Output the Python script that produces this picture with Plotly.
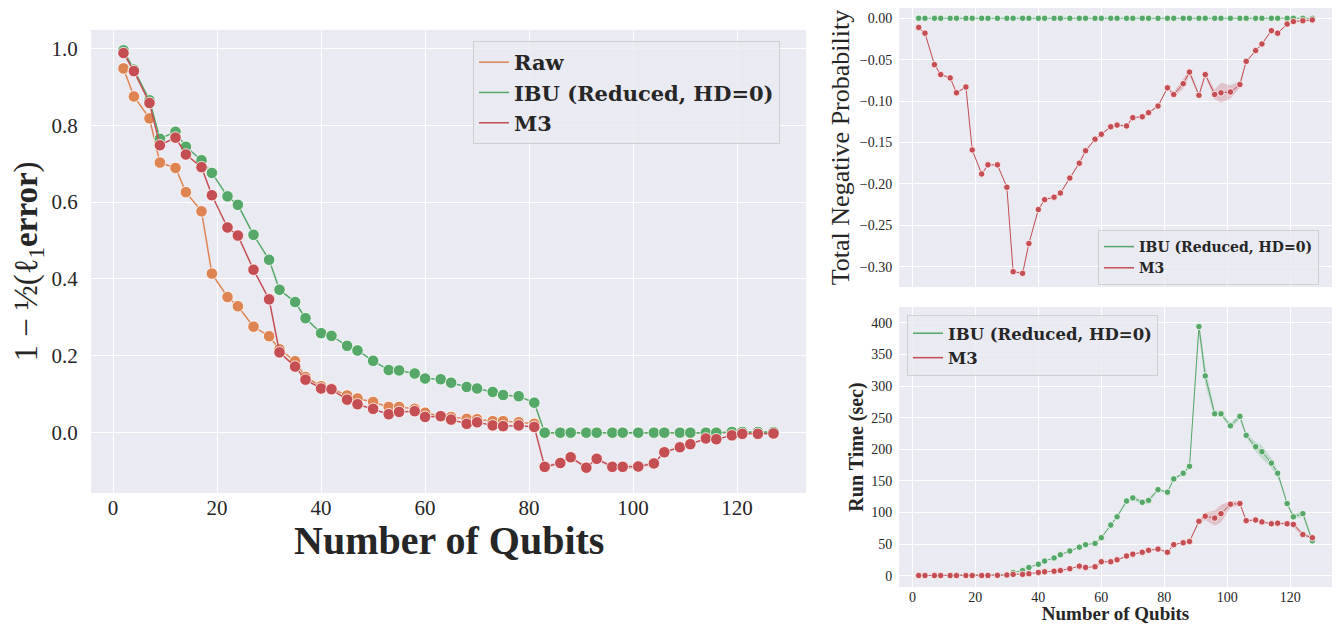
import plotly.graph_objects as go

# ---------------- data ----------------
qubits = [2, 4, 7, 9, 12, 14, 17, 19, 22, 24,
          27, 30, 32, 35, 37, 40, 42, 45, 47, 50,
          53, 55, 58, 60, 63, 65, 68, 70, 73, 75,
          78, 81, 83, 86, 88, 91, 93, 96, 98, 101,
          104, 106, 109, 111, 114, 116, 119, 121, 124, 127]

fid_raw = [0.948, 0.875, 0.818, 0.703, 0.689, 0.626, 0.576, 0.414, 0.353, 0.329,
           0.276, 0.251, 0.217, 0.186, 0.145, 0.121, 0.115, 0.097, 0.089, 0.080,
           0.067, 0.067, 0.062, 0.052, 0.043, 0.041, 0.036, 0.035, 0.030, 0.030,
           0.027, 0.023, 0.0, 0.0, 0.0, 0.0, 0.0, 0.0, 0.0, 0.0,
           0.0, 0.0, 0.0, 0.0, 0.0, 0.0, 0.0, 0.0, 0.0, 0.0]

fid_ibu = [0.995, 0.945, 0.865, 0.765, 0.783, 0.744, 0.709, 0.676, 0.615, 0.593,
           0.515, 0.450, 0.372, 0.340, 0.298, 0.259, 0.252, 0.226, 0.214, 0.187,
           0.163, 0.162, 0.154, 0.141, 0.139, 0.130, 0.119, 0.115, 0.106, 0.098,
           0.095, 0.078, 0.0, 0.0, 0.0, 0.0, 0.0, 0.0, 0.0, 0.0,
           0.0, 0.0, 0.0, 0.0, 0.0, 0.0, 0.002, 0.002, 0.002, 0.002]

fid_m3 = [0.988, 0.941, 0.858, 0.748, 0.768, 0.724, 0.691, 0.618, 0.534, 0.513,
          0.424, 0.347, 0.209, 0.172, 0.138, 0.115, 0.113, 0.086, 0.074, 0.062,
          0.048, 0.054, 0.056, 0.041, 0.043, 0.034, 0.023, 0.027, 0.019, 0.017,
          0.019, 0.015, -0.089, -0.079, -0.064, -0.091, -0.068, -0.089, -0.089, -0.088,
          -0.080, -0.051, -0.038, -0.030, -0.015, -0.017, -0.007, -0.003, -0.003, -0.002]

fid_m3_ci = [0.0, 0.0, 0.0, 0.0, 0.0, 0.0, 0.0, 0.0, 0.0, 0.0,
             0.0, 0.0, 0.0, 0.0, 0.0, 0.0, 0.0, 0.0, 0.0, 0.0,
             0.0, 0.0, 0.0, 0.0, 0.0, 0.0, 0.0, 0.0, 0.0, 0.0,
             0.0, 0.0, 0.004, 0.004, 0.004, 0.004, 0.004, 0.005, 0.006, 0.005,
             0.004, 0.0, 0.0, 0.0, 0.0, 0.0, 0.0, 0.0, 0.0, 0.0]

neg_ibu = [0.0] * 50

neg_m3 = [-0.011, -0.018, -0.056, -0.068, -0.072, -0.090, -0.083, -0.159, -0.188, -0.177,
          -0.177, -0.204, -0.306, -0.308, -0.272, -0.231, -0.219, -0.216, -0.211, -0.193,
          -0.175, -0.160, -0.146, -0.140, -0.131, -0.129, -0.130, -0.120, -0.119, -0.114,
          -0.106, -0.084, -0.092, -0.079, -0.065, -0.093, -0.068, -0.092, -0.090, -0.089,
          -0.080, -0.052, -0.039, -0.031, -0.015, -0.018, -0.007, -0.004, -0.003, -0.002]

neg_m3_ci = [0.001, 0.001, 0.001, 0.001, 0.001, 0.001, 0.001, 0.001, 0.001, 0.001,
             0.001, 0.001, 0.001, 0.001, 0.001, 0.001, 0.001, 0.001, 0.001, 0.001,
             0.001, 0.001, 0.001, 0.001, 0.001, 0.001, 0.001, 0.001, 0.001, 0.001,
             0.001, 0.001, 0.003, 0.006, 0.004, 0.002, 0.002, 0.006, 0.012, 0.008,
             0.004, 0.001, 0.001, 0.001, 0.001, 0.001, 0.001, 0.001, 0.001, 0.001]

time_ibu = [0.1, 0.1, 0.1, 0.1, 0.1, 0.1, 0.1, 0.2, 0.2, 0.3,
            0.5, 1, 5, 8, 13, 18, 23, 28, 33, 39,
            45, 49, 51, 60, 80, 93, 118, 123, 116, 119,
            136, 132, 153, 162, 173, 394, 316, 256, 256, 237,
            252, 222, 204, 196, 178, 162, 114, 93, 98, 55]

time_ibu_ci = [0, 0, 0, 0, 0, 0, 0, 0, 0, 0,
               0, 0, 0, 0, 0, 0, 0, 0, 0, 0,
               0, 0, 0, 1, 2, 2, 3, 3, 4, 4,
               2, 2, 2, 2, 3, 12, 15, 6, 4, 4,
               5, 3, 8, 10, 8, 5, 3, 4, 5, 3]

time_m3 = [0.1, 0.1, 0.1, 0.1, 0.1, 0.1, 0.1, 0.2, 0.2, 0.3,
           0.5, 1, 2, 2, 3, 5, 6, 7, 8, 11,
           15, 13, 14, 22, 22, 25, 31, 34, 37, 40,
           42, 37, 49, 52, 54, 86, 94, 91, 98, 113,
           114, 87, 88, 85, 82, 83, 82, 81, 65, 60]

time_m3_ci = [0, 0, 0, 0, 0, 0, 0, 0, 0, 0,
              0, 0, 0, 0, 0, 0, 0, 0, 0, 0,
              0, 0, 0, 1, 1, 1, 1, 1, 1, 1,
              1, 1, 1, 1, 1, 2, 6, 12, 14, 5,
              3, 1, 1, 1, 1, 1, 3, 4, 3, 2]

# ---------------- style ----------------
ORANGE = "#dd8452"
GREEN = "#55a868"
RED = "#c44e52"
BG = "#eaeaf2"
TXT = "#262626"
SERIF = "Liberation Serif"
LEGSERIF = "DejaVu Serif"

fig = go.Figure()


def band(x, y, ci, color, xa, ya):
    lo = [a - b for a, b in zip(y, ci)]
    hi = [a + b for a, b in zip(y, ci)]
    fig.add_trace(go.Scatter(x=x, y=lo, mode="lines", line=dict(width=0),
                             showlegend=False, hoverinfo="skip", xaxis=xa, yaxis=ya))
    fig.add_trace(go.Scatter(x=x, y=hi, mode="lines", line=dict(width=0),
                             fill="tonexty", fillcolor=color, showlegend=False,
                             hoverinfo="skip", xaxis=xa, yaxis=ya))


def series(x, y, color, xa, ya, msize, lw, name):
    fig.add_trace(go.Scatter(x=x, y=y, mode="lines+markers", name=name,
                             line=dict(color=color, width=lw),
                             marker=dict(color=color, size=msize,
                                         line=dict(color="white", width=0.8)),
                             showlegend=False, xaxis=xa, yaxis=ya))


def legend_entry(name, color, legend):
    fig.add_trace(go.Scatter(x=[None], y=[None], mode="lines", name=name,
                             line=dict(color=color, width=1.5),
                             legend=legend, showlegend=True, xaxis="x", yaxis="y"))


# left panel
band(qubits, fid_m3, fid_m3_ci, "rgba(196,78,82,0.2)", "x", "y")
series(qubits, fid_raw, ORANGE, "x", "y", 11.5, 1.5, "Raw")
series(qubits, fid_ibu, GREEN, "x", "y", 11.5, 1.5, "IBU (Reduced, HD=0)")
series(qubits, fid_m3, RED, "x", "y", 11.5, 1.5, "M3")

# top right panel
band(qubits, neg_m3, neg_m3_ci, "rgba(196,78,82,0.25)", "x2", "y2")
series(qubits, neg_ibu, GREEN, "x2", "y2", 6.5, 1, "IBU (Reduced, HD=0)")
series(qubits, neg_m3, RED, "x2", "y2", 6.5, 1, "M3")

# bottom right panel
band(qubits, time_ibu, time_ibu_ci, "rgba(85,168,104,0.25)", "x3", "y3")
band(qubits, time_m3, time_m3_ci, "rgba(196,78,82,0.25)", "x3", "y3")
series(qubits, time_ibu, GREEN, "x3", "y3", 6.5, 1, "IBU (Reduced, HD=0)")
series(qubits, time_m3, RED, "x3", "y3", 6.5, 1, "M3")

legend_entry("<b>Raw</b>", ORANGE, "legend")
legend_entry("<b>IBU (Reduced, HD=0)</b>", GREEN, "legend")
legend_entry("<b>M3</b>", RED, "legend")
legend_entry("<b>IBU (Reduced, HD=0)</b>", GREEN, "legend2")
legend_entry("<b>M3</b>", RED, "legend2")
legend_entry("<b>IBU (Reduced, HD=0)</b>", GREEN, "legend3")
legend_entry("<b>M3</b>", RED, "legend3")

# page body has an 8px margin: size the figure to fit and map reference pixels
OFF = 8
W, H = 1343 - OFF, 624 - OFF


def px(v):
    return min(1.0, max(0.0, (v - OFF) / W))


def py(v):
    return min(1.0, max(0.0, 1 - (v - OFF) / H))


axis_common = dict(showgrid=True, gridcolor="white", gridwidth=1, zeroline=False,
                   showline=False, ticks="outside", ticklen=4,
                   tickcolor="rgba(0,0,0,0)", color=TXT)

leg_common = dict(bgcolor="rgba(234,234,242,0.8)", bordercolor="rgba(204,204,204,0.9)",
                  borderwidth=1, xanchor="left", yanchor="top", tracegroupgap=0,
                  traceorder="normal")

fig.update_layout(
    width=W, height=H,
    margin=dict(l=0, r=0, t=0, b=0),
    paper_bgcolor="white", plot_bgcolor=BG,
    font=dict(family=SERIF, color=TXT),
    xaxis=dict(axis_common, domain=[px(91), px(806)], range=[-4.25, 133.25],
               tickvals=[0, 20, 40, 60, 80, 100, 120], tickfont=dict(size=21),
               ticks="", anchor="y"),
    yaxis=dict(axis_common, domain=[py(493), py(30)], range=[-0.157, 1.048],
               tickvals=[0.0, 0.2, 0.4, 0.6, 0.8, 1.0], tickformat=".1f",
               tickfont=dict(size=21), ticklen=8,
               title=dict(text="1 − ½(ℓ<sub>1</sub><b>error</b>)", font=dict(size=33), standoff=4),
               anchor="x"),
    xaxis2=dict(axis_common, domain=[px(899), px(1332)], range=[-4.25, 133.25],
                tickvals=[0, 20, 40, 60, 80, 100, 120], showticklabels=False,
                anchor="y2"),
    yaxis2=dict(axis_common, domain=[py(287), py(8)], range=[-0.3245, 0.0124],
                tickvals=[-0.30, -0.25, -0.20, -0.15, -0.10, -0.05, 0.0], tickformat=".2f",
                tickfont=dict(size=14), ticklen=3,
                title=dict(text="Total Negative Probability", font=dict(size=26), standoff=2),
                anchor="x2"),
    xaxis3=dict(axis_common, domain=[px(899), px(1332)], range=[-4.25, 133.25],
                tickvals=[0, 20, 40, 60, 80, 100, 120], tickfont=dict(size=14),
                ticks="",
                title=dict(text="<b>Number of Qubits</b>", font=dict(size=19), standoff=0),
                anchor="y3"),
    yaxis3=dict(axis_common, domain=[py(587), py(307)], range=[-18, 425],
                tickvals=[0, 50, 100, 150, 200, 250, 300, 350, 400],
                tickfont=dict(size=14), ticklen=3,
                title=dict(text="<b>Run Time (sec)</b>", font=dict(size=20), standoff=2),
                anchor="x3"),
    legend=dict(leg_common, x=px(473), y=py(41), font=dict(size=21, family=LEGSERIF)),
    legend2=dict(leg_common, x=px(1098), y=py(230), font=dict(size=14, family=LEGSERIF)),
    legend3=dict(leg_common, x=px(907), y=py(315), font=dict(size=16.5, family=LEGSERIF)),
    annotations=[dict(text="<b>Number of Qubits</b>", xref="paper", yref="paper",
                      x=(px(91) + px(806)) / 2, y=py(540), xanchor="center",
                      yanchor="middle", showarrow=False, font=dict(size=40))],
)

fig.write_html("out.html")
